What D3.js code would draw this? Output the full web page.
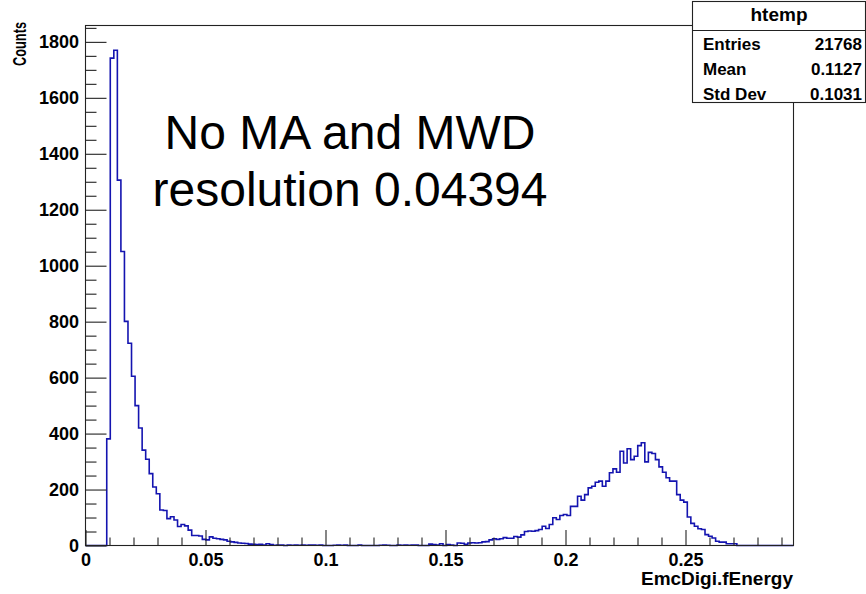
<!DOCTYPE html>
<html>
<head>
<meta charset="utf-8">
<script src="https://cdn.jsdelivr.net/npm/d3@7"></script>
<style>
  html, body { margin: 0; padding: 0; background: #fff; }
  svg { display: block; font-family: "Liberation Sans", Arial, Helvetica, sans-serif; }
</style>
</head>
<body>
<svg id="chart" width="866" height="594"></svg>
<script>
// Histogram of EmcDigi.fEnergy: 200 equal bins over the x range
const xRange = [0, 0.295];
const binCounts = [
  0, 0, 0, 0, 0, 0, 381, 1742, 1770, 1306,
  1051, 801, 723, 605, 500, 420, 341, 308, 257, 209,
  185, 127, 125, 96, 103, 91, 68, 75, 70, 55,
  36, 36, 34, 22, 20, 31, 26, 24, 22, 20,
  15, 13, 11, 9, 8, 7, 5, 4, 3, 4,
  2, 6, 3, 1, 2, 2, 0, 2, 1, 2,
  1, 2, 1, 2, 2, 1, 2, 0, 0, 0,
  1, 2, 1, 2, 0, 0, 0, 2, 0, 0,
  0, 0, 0, 1, 2, 1, 0, 0, 2, 1,
  2, 1, 2, 2, 0, 0, 0, 5, 3, 2,
  6, 0, 3, 2, 0, 9, 8, 4, 9, 10,
  9, 10, 13, 14, 20, 24, 22, 24, 28, 26,
  26, 32, 30, 38, 50, 52, 51, 53, 57, 69,
  61, 75, 99, 93, 107, 111, 107, 140, 140, 176,
  162, 182, 206, 212, 226, 230, 212, 230, 260, 274,
  262, 337, 295, 346, 307, 319, 357, 367, 299, 333,
  329, 307, 281, 262, 242, 230, 230, 182, 162, 155,
  102, 79, 69, 60, 57, 39, 33, 27, 15, 12,
  12, 6, 6, 6, 0, 0, 0, 0, 0, 0,
  0, 0, 0, 0, 0, 0, 0, 0, 0, 0
];

// Axis tick values and labels
const xTickValues = [0, 0.05, 0.1, 0.15, 0.2, 0.25];
const xTickLabels = ["0", "0.05", "0.1", "0.15", "0.2", "0.25"];
const xMinorStep = 0.01;
const yTickValues = [0, 200, 400, 600, 800, 1000, 1200, 1400, 1600, 1800];
const yMinorStep = 50;

// Titles, annotation and statistics box text
const xTitle = "EmcDigi.fEnergy";
const yTitle = "Counts";
const noteLines = ["No MA and MWD", "resolution 0.04394"];
const statsTitle = "htemp";
const statsNames = ["Entries", "Mean", "Std Dev"];
const statsValues = ["21768", "0.1127", "0.1031"];

const svg = d3.select("#chart");
const frame = { left: 85.5, right: 793.5, top: 25.5, bottom: 545.5 };

const x = d3.scaleLinear().domain(xRange).range([frame.left, frame.right]);
const y = d3.scaleLinear().domain([0, 1.05 * d3.max(binCounts)]).range([frame.bottom, frame.top]);

// Histogram outline as a step line
const binWidth = (xRange[1] - xRange[0]) / binCounts.length;
const steps = [[xRange[0], 0]];
binCounts.forEach((c, i) => {
  steps.push([xRange[0] + i * binWidth, c]);
  steps.push([xRange[0] + (i + 1) * binWidth, c]);
});
steps.push([xRange[1], 0]);

svg.append("path")
  .datum(steps)
  .attr("fill", "none")
  .attr("stroke", "#1414b0")
  .attr("stroke-width", 1.6)
  .attr("stroke-linejoin", "miter")
  .attr("d", d3.line().x(d => x(d[0])).y(d => y(d[1])));

// Frame
svg.append("rect")
  .attr("x", frame.left).attr("y", frame.top)
  .attr("width", frame.right - frame.left)
  .attr("height", frame.bottom - frame.top)
  .attr("fill", "none")
  .attr("stroke", "#222")
  .attr("stroke-width", 1.1);

// X axis: major ticks with labels, minor ticks without
const xMinor = d3.range(0, Math.round(xRange[1] / xMinorStep) + 1)
  .map(i => +(i * xMinorStep).toFixed(4))
  .filter(v => v <= xRange[1] && !xTickValues.some(t => Math.abs(t - v) < 1e-9));

const gx = svg.append("g").attr("transform", `translate(0,${frame.bottom})`);
gx.append("g").call(d3.axisBottom(x).tickValues(xMinor).tickFormat("").tickSizeInner(-8).tickSizeOuter(0));
gx.append("g").call(d3.axisBottom(x).tickValues(xTickValues)
  .tickFormat((d, i) => xTickLabels[i]).tickSizeInner(-15.5).tickSizeOuter(0).tickPadding(7.5));
gx.selectAll(".domain").remove();
gx.selectAll(".tick line").attr("stroke", "#222").attr("stroke-width", 1.1);
gx.selectAll(".tick text")
  .attr("fill", "#000")
  .style("font-size", "18px")
  .style("font-weight", "bold");

// Y axis
const yMinor = d3.range(0, Math.floor(y.domain()[1] / yMinorStep) + 1)
  .map(i => i * yMinorStep)
  .filter(v => !yTickValues.includes(v));

const gy = svg.append("g").attr("transform", `translate(${frame.left},0)`);
gy.append("g").call(d3.axisLeft(y).tickValues(yMinor).tickFormat("").tickSizeInner(-11).tickSizeOuter(0));
gy.append("g").call(d3.axisLeft(y).tickValues(yTickValues)
  .tickFormat(d3.format("d")).tickSizeInner(-21).tickSizeOuter(0).tickPadding(6.5));
gy.selectAll(".domain").remove();
gy.selectAll(".tick line").attr("stroke", "#222").attr("stroke-width", 1.1);
gy.selectAll(".tick text")
  .attr("fill", "#000")
  .style("font-size", "18px")
  .style("font-weight", "bold");

// Axis titles
svg.append("text")
  .attr("x", frame.right - 0.5).attr("y", 585)
  .attr("text-anchor", "end")
  .style("font-size", "19px").style("font-weight", "bold")
  .text(xTitle);

svg.append("text")
  .attr("transform", "translate(25.5,66) rotate(-90)")
  .attr("text-anchor", "start")
  .attr("textLength", 44)
  .attr("lengthAdjust", "spacingAndGlyphs")
  .style("font-size", "18px").style("font-weight", "bold")
  .text(yTitle);

// Annotation
svg.append("g").selectAll("text")
  .data(noteLines)
  .join("text")
  .attr("x", 350)
  .attr("y", (d, i) => 149 + i * 57)
  .attr("text-anchor", "middle")
  .style("font-size", "48px")
  .text(d => d);

// Statistics box
const box = { x: 692.5, y: 1.5, w: 173, h: 101, head: 30.5 };
const gs = svg.append("g");
gs.append("rect")
  .attr("x", box.x).attr("y", box.y).attr("width", box.w).attr("height", box.h)
  .attr("fill", "#fff").attr("stroke", "#222").attr("stroke-width", 1.1);
gs.append("line")
  .attr("x1", box.x).attr("x2", box.x + box.w)
  .attr("y1", box.head).attr("y2", box.head)
  .attr("stroke", "#222").attr("stroke-width", 1.1);
gs.append("text")
  .attr("x", box.x + box.w / 2).attr("y", 21)
  .attr("text-anchor", "middle")
  .style("font-size", "19px").style("font-weight", "bold")
  .text(statsTitle);
gs.selectAll("text.name")
  .data(statsNames)
  .join("text").attr("class", "name")
  .attr("x", 703).attr("y", (d, i) => 50 + i * 25)
  .style("font-size", "17px").style("font-weight", "bold")
  .text(d => d);
gs.selectAll("text.value")
  .data(statsValues)
  .join("text").attr("class", "value")
  .attr("x", 862).attr("y", (d, i) => 50 + i * 25)
  .attr("text-anchor", "end")
  .style("font-size", "17px").style("font-weight", "bold")
  .text(d => d);
</script>
</body>
</html>
